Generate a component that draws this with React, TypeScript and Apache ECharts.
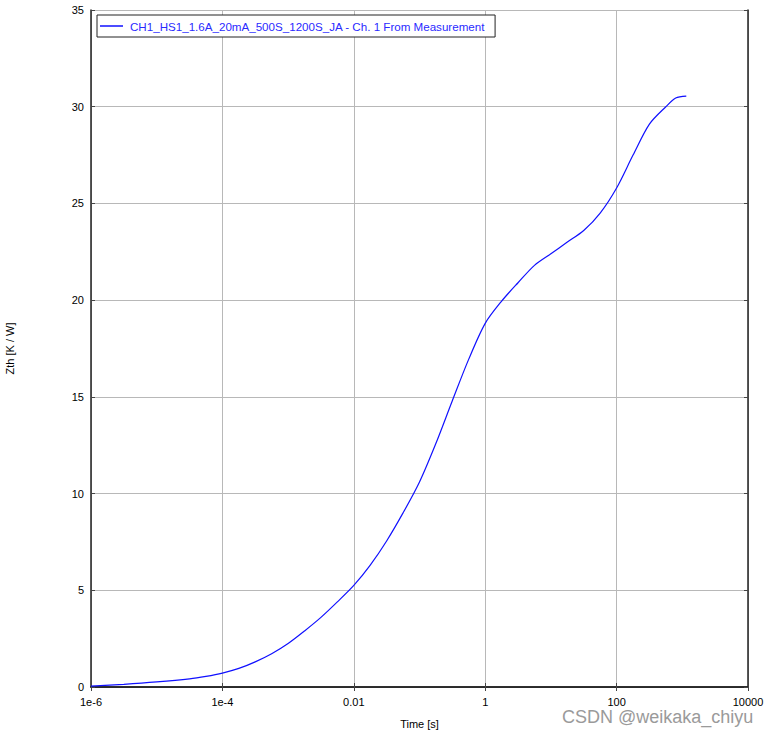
import React, { useEffect, useRef } from "react";
import * as echarts from "echarts";

const seriesName = "CH1_HS1_1.6A_20mA_500S_1200S_JA - Ch. 1 From Measurement";
const timeValues = [
  1e-6, 3.16e-6, 1e-5, 3.16e-5, 5.62e-5, 1e-4, 1.78e-4, 3.16e-4, 5.62e-4, 1e-3,
  1.78e-3, 3.16e-3, 5.62e-3, 0.01, 0.0178, 0.0316, 0.0562, 0.1, 0.178, 0.316,
  0.562, 1, 1.78, 3.16, 5.62, 10, 17.8, 31.6, 56.2, 100,
  178, 316, 562, 794, 1150,
];
const zthValues = [
  0.05, 0.14, 0.26, 0.42, 0.55, 0.72, 0.96, 1.3, 1.72, 2.25,
  2.9, 3.6, 4.4, 5.25, 6.3, 7.55, 9.0, 10.6, 12.6, 14.8,
  16.95, 18.8, 19.95, 20.9, 21.8, 22.4, 23.0, 23.6, 24.5, 25.8,
  27.5, 29.1, 30.0, 30.45, 30.55,
];
const xTickLabels = ["1e-6", "1e-4", "0.01", "1", "100", "10000"];
const xTickExponents = [-6, -4, -2, 0, 2, 4];

const FONT = "Liberation Sans, Arial, sans-serif";

export default function App() {
  const ref = useRef<HTMLDivElement>(null);
  useEffect(() => {
    if (!ref.current) return;
    const chart = echarts.init(ref.current, undefined, { renderer: "svg" });
    const data = timeValues.map((t, i) => [t, zthValues[i]]);
    const frameLine = { show: true, lineStyle: { color: "#222", width: 1.5 } };
    const tick = { show: true, inside: true, length: 4, lineStyle: { color: "#444" } };
    chart.setOption({
      animation: false,
      backgroundColor: "#fff",
      textStyle: { fontFamily: FONT },
      grid: {
        left: 91,
        right: 20,
        top: 10,
        bottom: 50,
        containLabel: false,
        outerBoundsMode: "none",
      },
      legend: {
        left: 97,
        top: 15,
        orient: "horizontal",
        backgroundColor: "#fff",
        borderColor: "#222",
        borderWidth: 1,
        padding: [5, 10, 5, 3],
        itemWidth: 23,
        itemHeight: 1.5,
        itemGap: 0,
        textStyle: { color: "#2a2aff", fontSize: 11.6, fontFamily: FONT, padding: [0, 0, 0, 2] },
        data: [{ name: seriesName, icon: "rect" }],
      },
      xAxis: [
        {
          type: "log",
          logBase: 10,
          min: 1e-6,
          max: 1e4,
          interval: 2,
          name: "Time [s]",
          nameLocation: "middle",
          nameGap: 31,
          nameTextStyle: { color: "#000", fontSize: 11, fontFamily: FONT },
          axisLine: frameLine,
          axisTick: tick,
          minorTick: { show: false },
          axisLabel: {
            color: "#000",
            fontSize: 11,
            fontFamily: FONT,
            margin: 9,
            formatter: (v: number) => {
              const e = Math.round(Math.log10(v));
              const idx = xTickExponents.indexOf(e);
              return idx >= 0 ? xTickLabels[idx] : "";
            },
          },
          splitLine: { show: true, lineStyle: { color: "#b8b8b8", width: 1 } },
        },
        {
          type: "log",
          logBase: 10,
          min: 1e-6,
          max: 1e4,
          interval: 2,
          position: "top",
          axisLine: frameLine,
          axisTick: tick,
          axisLabel: { show: false },
          splitLine: { show: false },
        },
      ],
      yAxis: [
        {
          type: "value",
          min: 0,
          max: 35,
          interval: 5,
          name: "Zth [K / W]",
          nameLocation: "middle",
          nameGap: 76,
          nameRotate: 90,
          nameTextStyle: { color: "#000", fontSize: 11, fontFamily: FONT },
          axisLine: frameLine,
          axisTick: tick,
          axisLabel: { color: "#000", fontSize: 11, fontFamily: FONT, margin: 7 },
          splitLine: { show: true, lineStyle: { color: "#b8b8b8", width: 1 } },
        },
        {
          type: "value",
          min: 0,
          max: 35,
          interval: 5,
          position: "right",
          axisLine: frameLine,
          axisTick: tick,
          axisLabel: { show: false },
          splitLine: { show: false },
        },
      ],
      series: [
        {
          name: seriesName,
          type: "line",
          xAxisIndex: 0,
          yAxisIndex: 0,
          data,
          smooth: 0.3,
          symbol: "none",
          showSymbol: false,
          lineStyle: { color: "#1010ff", width: 1.2 },
          itemStyle: { color: "#1010ff" },
        },
      ],
      graphic: [
        {
          type: "text",
          left: 562,
          top: 708,
          style: {
            text: "CSDN @weikaka_chiyu",
            fill: "#9a9a9a",
            font: "18px Liberation Sans, Arial, sans-serif",
          },
        },
      ],
    });
    return () => chart.dispose();
  }, []);
  return (
    <div
      ref={ref}
      style={{ position: "fixed", left: 0, top: 0, width: 768, height: 737, background: "#fff" }}
    />
  );
}
